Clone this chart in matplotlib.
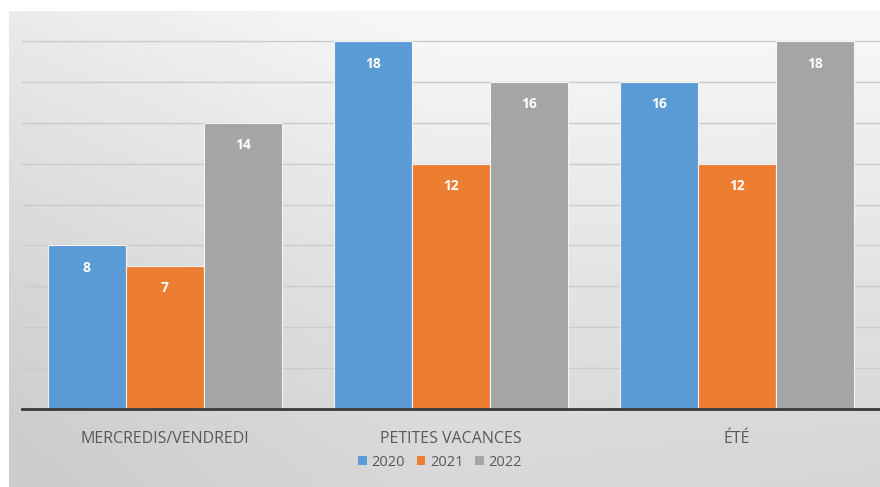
import numpy as np
import matplotlib
matplotlib.use("Agg")
import matplotlib.pyplot as plt
from matplotlib.patches import Patch

# ---- data ----
categories = ["MERCREDIS/VENDREDI", "PETITES VACANCES", "ÉTÉ"]
years = ["2020", "2021", "2022"]
values_2020 = [8, 18, 16]
values_2021 = [7, 12, 12]
values_2022 = [14, 16, 18]

COLORS = ["#5B9BD5", "#ED7D31", "#A5A5A5"]
BAR_W = 0.273
FONT = "Open Sans"

plt.rcParams["font.family"] = [FONT, "DejaVu Sans"]

fig = plt.figure(figsize=(8.8, 4.87), dpi=100)
fig.patch.set_facecolor("white")

# ---- gradient background (chart area) ----
bg = fig.add_axes([9 / 880, 0, 1 - 9 / 880, (487 - 11) / 487], zorder=0)
ny, nx = 200, 400
yy, xx = np.mgrid[0:1:ny * 1j, 0:1:nx * 1j]   # yy=0 top
shade = 0.80 + 0.12 * (1 - yy) ** 1.3 + 0.06 * np.clip(xx * 2.0, 0, 1) - 0.02 * xx * yy
shade = np.clip(shade, 0, 0.97)
bg.imshow(np.dstack([shade] * 3), aspect="auto", extent=[0, 1, 0, 1], origin="upper")
bg.set_axis_off()

# ---- main axes ----
ax = fig.add_axes([22 / 880, 78 / 487, 1 - 22 / 880, (409 - 11) / 487], zorder=1)
ax.set_facecolor("none")

x = np.arange(len(categories))
series = [values_2020, values_2021, values_2022]
for i, (vals, col) in enumerate(zip(series, COLORS)):
    bars = ax.bar(x + (i - 1) * BAR_W, vals, BAR_W, color=col,
                  edgecolor="#f4f4f4", linewidth=0.8, zorder=3, label=years[i])
    for b, v in zip(bars, vals):
        ax.text(b.get_x() + b.get_width() / 2, v - 1.1, str(v),
                ha="center", va="center", color="white", fontsize=10,
                fontweight="bold", zorder=4)

ax.set_xlim(-0.5, 2.5)
ax.set_ylim(0, 19.47)
ax.set_yticks(np.arange(2, 19, 2))
ax.yaxis.grid(True, color="#cbcbcb", linewidth=1.0, zorder=0)
ax.tick_params(axis="y", left=False, labelleft=False)
ax.tick_params(axis="x", bottom=False, pad=12)
ax.set_xticks(x)
ax.set_xticklabels(categories, fontsize=11.5, color="#595959")

for s in ["top", "right", "left"]:
    ax.spines[s].set_visible(False)
ax.spines["bottom"].set_color("#3a3a3a")
ax.spines["bottom"].set_linewidth(2)
ax.spines["bottom"].set_zorder(5)

handles = [Patch(facecolor=c, edgecolor="none") for c in COLORS]
fig.legend(handles, years, loc="center", bbox_to_anchor=(0.5, 1 - 462 / 487),
           ncol=3, frameon=False, fontsize=10.5, labelcolor="#595959",
           handlelength=0.6, handleheight=0.6, handletextpad=0.3, columnspacing=0.8)

fig.savefig("out.png", dpi=100, facecolor="white")
